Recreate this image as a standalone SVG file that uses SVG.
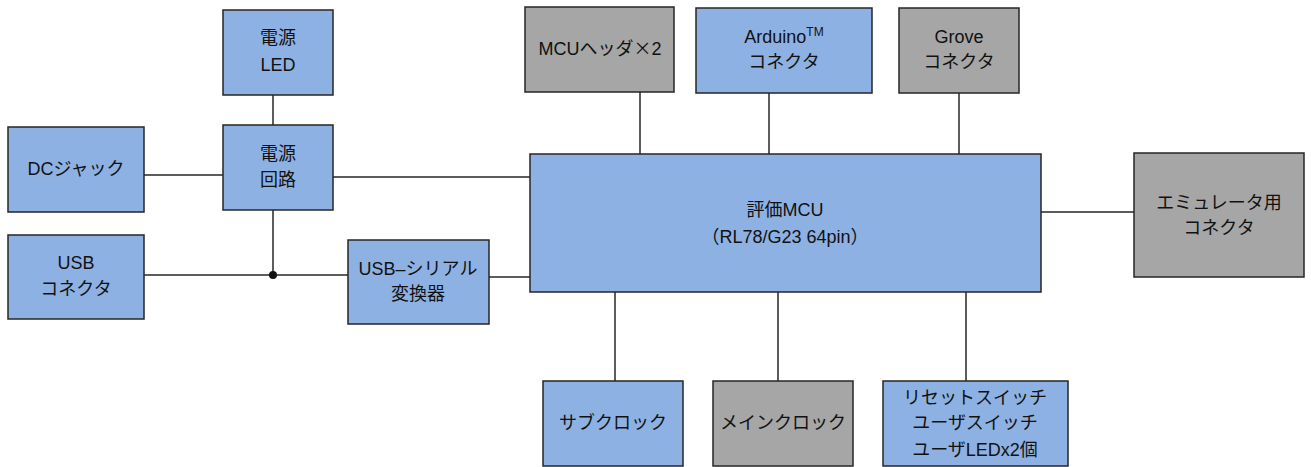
<svg xmlns="http://www.w3.org/2000/svg" width="1311" height="467" viewBox="0 0 1311 467">
<style>
  .blue{fill:#8EB1E3;stroke:#262626;stroke-width:1.5}
  .gray{fill:#A6A6A6;stroke:#262626;stroke-width:1.5}
  .t{font-family:"Liberation Sans","Noto Sans CJK JP",sans-serif;font-size:18px;fill:#111;text-anchor:middle}
  .cjk{font-family:"Noto Sans CJK JP",sans-serif}
  .c{stroke:#262626;stroke-width:1.5;fill:none}
</style>
<rect width="1311" height="467" fill="#fff"/>
<g id="connectors">
  <line class="c" x1="273" y1="95" x2="273" y2="125"/>
  <line class="c" x1="144" y1="175" x2="223" y2="175"/>
  <line class="c" x1="333" y1="177" x2="530" y2="177"/>
  <line class="c" x1="273" y1="210" x2="273" y2="275"/>
  <line class="c" x1="144" y1="275" x2="348" y2="275"/>
  <circle cx="273" cy="275" r="4" fill="#111"/>
  <line class="c" x1="489" y1="277" x2="530" y2="277"/>
  <line class="c" x1="640" y1="92" x2="640" y2="154"/>
  <line class="c" x1="769" y1="93" x2="769" y2="154"/>
  <line class="c" x1="959" y1="93" x2="959" y2="154"/>
  <line class="c" x1="1041" y1="212" x2="1134" y2="212"/>
  <line class="c" x1="615" y1="292" x2="615" y2="381"/>
  <line class="c" x1="778" y1="292" x2="778" y2="381"/>
  <line class="c" x1="966" y1="292" x2="966" y2="381"/>
</g>
<g id="power-led">
  <rect class="blue" x="223" y="10" width="110" height="85"/>
  <text class="t" x="278" y="44">電源</text>
  <text class="t" x="278" y="71">LED</text>
</g>
<g id="power-circuit">
  <rect class="blue" x="223" y="125" width="110" height="85"/>
  <text class="t" x="278" y="160">電源</text>
  <text class="t" x="278" y="186">回路</text>
</g>
<g id="dc-jack">
  <rect class="blue" x="8" y="127" width="136" height="85"/>
  <text class="t" x="76" y="175">DCジャック</text>
</g>
<g id="usb-connector">
  <rect class="blue" x="8" y="235" width="136" height="84"/>
  <text class="t" x="76" y="269">USB</text>
  <text class="t" x="76" y="295">コネクタ</text>
</g>
<g id="usb-serial">
  <rect class="blue" x="348" y="240" width="141" height="84"/>
  <text class="t" x="418" y="275">USB–シリアル</text>
  <text class="t" x="418" y="300">変換器</text>
</g>
<g id="mcu-header">
  <rect class="gray" x="525" y="7" width="149" height="85"/>
  <text class="t" x="600" y="55">MCUヘッダ<tspan class="cjk">×</tspan>2</text>
</g>
<g id="arduino">
  <rect class="blue" x="696" y="8" width="176" height="85"/>
  <text class="t" x="784" y="43">Arduino<tspan font-size="12" dy="-7">TM</tspan></text>
  <text class="t" x="784" y="68">コネクタ</text>
</g>
<g id="grove">
  <rect class="gray" x="899" y="8" width="120" height="85"/>
  <text class="t" x="959" y="43">Grove</text>
  <text class="t" x="959" y="68">コネクタ</text>
</g>
<g id="mcu">
  <rect class="blue" x="530" y="154" width="511" height="138"/>
  <text class="t" x="785" y="216">評価MCU</text>
  <text class="t" x="785" y="243">（RL78/G23 64pin）</text>
</g>
<g id="emulator">
  <rect class="gray" x="1134" y="153" width="170" height="124"/>
  <text class="t" x="1219" y="209">エミュレータ用</text>
  <text class="t" x="1219" y="234">コネクタ</text>
</g>
<g id="sub-clock">
  <rect class="blue" x="543" y="381" width="140" height="85"/>
  <text class="t" x="613" y="429">サブクロック</text>
</g>
<g id="main-clock">
  <rect class="gray" x="713" y="381" width="140" height="85"/>
  <text class="t" x="783" y="429">メインクロック</text>
</g>
<g id="switches">
  <rect class="blue" x="883" y="381" width="185" height="85"/>
  <text class="t" x="975" y="404">リセットスイッチ</text>
  <text class="t" x="975" y="429">ユーザスイッチ</text>
  <text class="t" x="975" y="456">ユーザLEDx2個</text>
</g>
</svg>
